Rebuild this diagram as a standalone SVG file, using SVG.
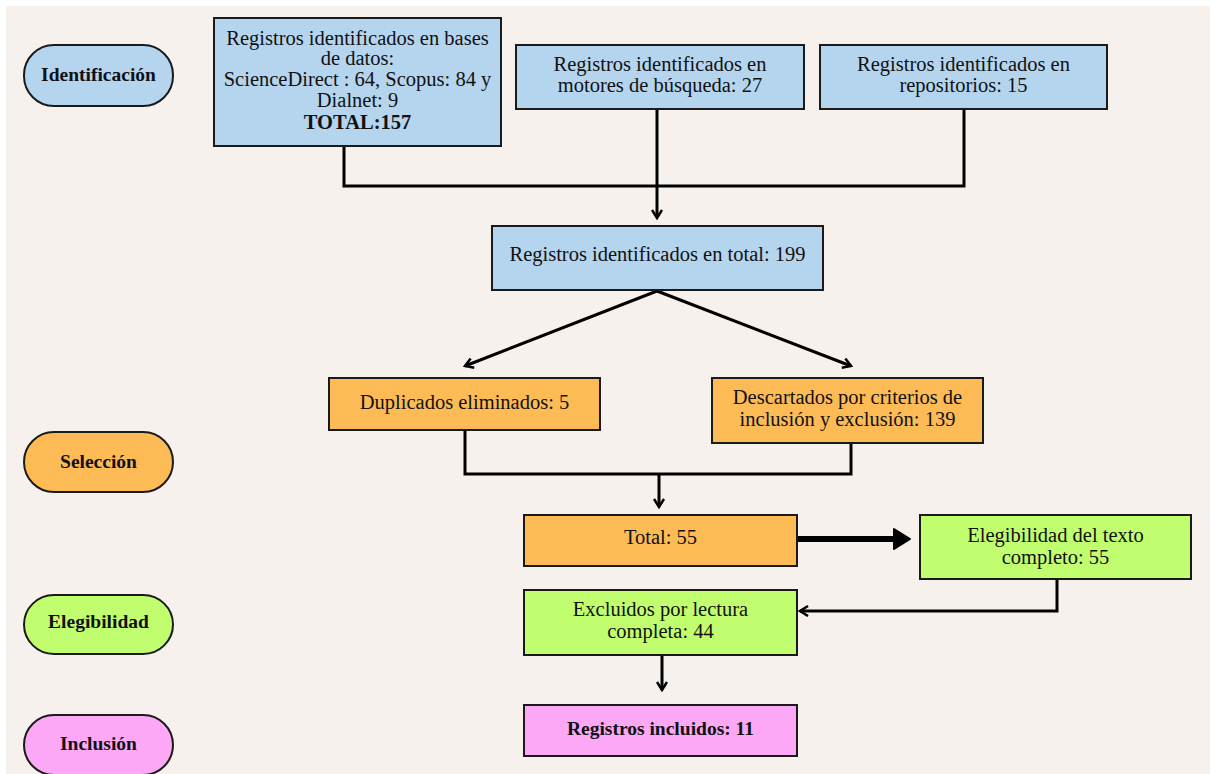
<svg xmlns="http://www.w3.org/2000/svg" width="1213" height="774" viewBox="0 0 1213 774">
<defs>
<style>
.box{stroke:#1a1a1a;stroke-width:2}
.blue{fill:#b5d5ef}.orange{fill:#fdbb56}.green{fill:#c1fe6f}.pink{fill:#fda8f6}
text{font-family:"Liberation Serif","Times New Roman",serif;font-size:20.5px;fill:#111;text-anchor:middle}
.b{font-weight:bold;font-size:19.5px}
.pl{font-weight:bold;font-size:19.5px}
.c{fill:none;stroke:#000;stroke-width:3;stroke-linejoin:miter}
.a{marker-end:url(#ah)}
</style>
<marker id="ah" viewBox="0 0 12 12" refX="10" refY="6" markerWidth="12" markerHeight="12" markerUnits="userSpaceOnUse" orient="auto">
<path d="M2,1 L10,6 L2,11" fill="none" stroke="#000" stroke-width="2.5"/>
</marker>
</defs>
<rect x="0" y="0" width="1213" height="774" fill="#ffffff"/>
<rect x="6" y="6" width="1204" height="768" fill="#f6f1ed"/>

<g id="connectors">
<path class="c" d="M344,146 V186 H964 V109"/>
<path class="c a" d="M657,109 V218"/>
<path class="c a" d="M657,291 L465,366"/>
<path class="c a" d="M657,291 L851,366"/>
<path class="c" d="M465,430 V474 H851 V443"/>
<path class="c a" d="M659,474 V507"/>
<path d="M797,539 H896" fill="none" stroke="#000" stroke-width="6"/>
<path d="M894,529 L910,539 L894,549 Z" fill="#000" stroke="#000" stroke-width="2" stroke-linejoin="round"/>
<path class="c a" d="M1057,579 V611 H800"/>
<path class="c a" d="M662,655 V690"/>
</g>

<g id="identificacion">
<rect class="box blue" x="24" y="45" width="149" height="61" rx="30"/>
<text class="pl" x="98.5" y="81">Identificación</text>
</g>
<g id="seleccion">
<rect class="box orange" x="24" y="432" width="149" height="60" rx="30"/>
<text class="pl" x="98.5" y="468">Selección</text>
</g>
<g id="elegibilidad">
<rect class="box green" x="24" y="595" width="149" height="59" rx="30"/>
<text class="pl" x="98.5" y="628">Elegibilidad</text>
</g>
<g id="inclusion">
<rect class="box pink" x="24" y="715" width="149" height="60" rx="30"/>
<text class="pl" x="98.5" y="750">Inclusión</text>
</g>

<g id="bases-datos">
<rect class="box blue" x="214" y="18" width="287" height="128"/>
<text x="357.5" y="45">Registros identificados en bases</text>
<text x="357.5" y="65">de datos:</text>
<text x="357.5" y="86">ScienceDirect : 64, Scopus: 84 y</text>
<text x="357.5" y="107">Dialnet: 9</text>
<text class="b" x="357.5" y="129" style="font-size:20.5px">TOTAL:157</text>
</g>
<g id="motores">
<rect class="box blue" x="516" y="45" width="288" height="64"/>
<text x="660" y="71">Registros identificados en</text>
<text x="660" y="92">motores de búsqueda: 27</text>
</g>
<g id="repositorios">
<rect class="box blue" x="820" y="45" width="287" height="64"/>
<text x="963.5" y="71">Registros identificados en</text>
<text x="963.5" y="92">repositorios: 15</text>
</g>
<g id="total199">
<rect class="box blue" x="492" y="226" width="331" height="64"/>
<text x="657.5" y="261">Registros identificados en total: 199</text>
</g>
<g id="duplicados">
<rect class="box orange" x="329" y="378" width="271" height="52"/>
<text x="464.5" y="409">Duplicados eliminados: 5</text>
</g>
<g id="descartados">
<rect class="box orange" x="712" y="378" width="271" height="65"/>
<text x="847.5" y="404">Descartados por criterios de</text>
<text x="847.5" y="426">inclusión y exclusión: 139</text>
</g>
<g id="total55">
<rect class="box orange" x="524" y="515" width="273" height="51"/>
<text x="660.5" y="544">Total: 55</text>
</g>
<g id="elegibilidad-texto">
<rect class="box green" x="920" y="515" width="271" height="64"/>
<text x="1055.5" y="542">Elegibilidad del texto</text>
<text x="1055.5" y="564">completo: 55</text>
</g>
<g id="excluidos">
<rect class="box green" x="524" y="590" width="273" height="65"/>
<text x="660.5" y="616">Excluidos por lectura</text>
<text x="660.5" y="638">completa: 44</text>
</g>
<g id="incluidos">
<rect class="box pink" x="524" y="705" width="273" height="51"/>
<text class="b" x="660.5" y="735">Registros incluidos: 11</text>
</g>
</svg>
